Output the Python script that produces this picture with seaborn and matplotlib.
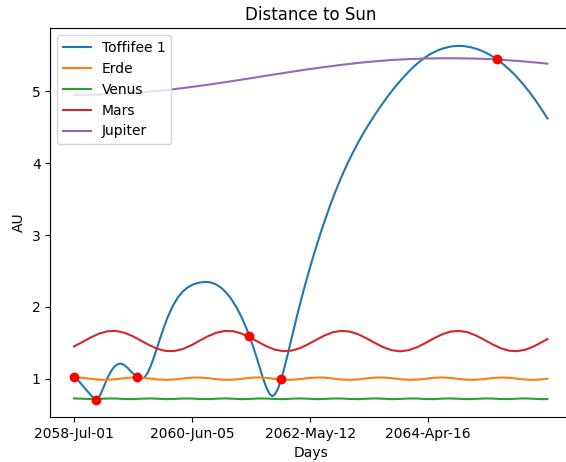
import matplotlib
matplotlib.use("Agg")
import matplotlib.pyplot as plt
import seaborn as sns

# Days since 2058-Jul-01
planet_days = list(range(0, 2801, 50)) + [2830]
jupiter_days = list(range(0, 2801, 100)) + [2830]

erde_au = [1.017, 1.012, 0.998, 0.986, 0.984, 0.993, 1.006, 1.016, 1.014, 1.003,
           0.989, 0.983, 0.989, 1.002, 1.014, 1.016, 1.007, 0.993, 0.984, 0.986,
           0.998, 1.011, 1.017, 1.011, 0.997, 0.986, 0.984, 0.994, 1.008, 1.016,
           1.014, 1.001, 0.988, 0.983, 0.990, 1.004, 1.015, 1.016, 1.006, 0.992,
           0.984, 0.987, 0.999, 1.012, 1.017, 1.010, 0.996, 0.985, 0.985, 0.995,
           1.009, 1.016, 1.013, 1.000, 0.987, 0.983, 0.991, 0.999]

venus_au = [0.725, 0.721, 0.715, 0.718, 0.724, 0.724, 0.717, 0.715, 0.721, 0.725,
            0.721, 0.715, 0.718, 0.724, 0.724, 0.717, 0.715, 0.721, 0.725, 0.721,
            0.715, 0.718, 0.724, 0.724, 0.717, 0.715, 0.721, 0.725, 0.721, 0.715,
            0.718, 0.724, 0.724, 0.717, 0.715, 0.721, 0.725, 0.721, 0.715, 0.718,
            0.724, 0.724, 0.717, 0.715, 0.722, 0.725, 0.720, 0.715, 0.719, 0.724,
            0.724, 0.716, 0.716, 0.722, 0.725, 0.720, 0.715, 0.716]

mars_au = [1.449, 1.510, 1.574, 1.628, 1.660, 1.665, 1.640, 1.592, 1.529, 1.466,
           1.415, 1.385, 1.385, 1.413, 1.464, 1.527, 1.590, 1.639, 1.664, 1.661,
           1.630, 1.576, 1.513, 1.451, 1.404, 1.383, 1.390, 1.424, 1.480, 1.544,
           1.604, 1.648, 1.666, 1.655, 1.617, 1.560, 1.496, 1.437, 1.396, 1.381,
           1.396, 1.437, 1.496, 1.560, 1.617, 1.655, 1.666, 1.648, 1.604, 1.544,
           1.480, 1.424, 1.390, 1.383, 1.404, 1.451, 1.513, 1.551]

jupiter_au = [4.950, 4.951, 4.957, 4.969, 4.985, 5.006, 5.031, 5.060, 5.092, 5.126,
              5.162, 5.199, 5.236, 5.272, 5.307, 5.339, 5.369, 5.396, 5.418, 5.436,
              5.449, 5.457, 5.460, 5.460, 5.456, 5.447, 5.432, 5.414, 5.393, 5.385]

toffifee_days = [0, 20, 40, 60, 80, 100, 115, 130, 145, 160,
                 180, 200, 220, 240, 260, 280, 300, 320, 340, 360,
                 375, 390, 405, 420, 440, 460, 480, 500, 520, 540,
                 560, 590, 620, 650, 680, 710, 740, 770, 790, 820,
                 850, 880, 910, 940, 970, 1000, 1030, 1060, 1090, 1110,
                 1130, 1150, 1170, 1185, 1200, 1220, 1240, 1260, 1280, 1300,
                 1320, 1340, 1360, 1380, 1400, 1430, 1460, 1490, 1530, 1560,
                 1600, 1640, 1670, 1700, 1735, 1770, 1800, 1830, 1870, 1900,
                 1930, 1970, 2000, 2030, 2070, 2100, 2130, 2170, 2200, 2240,
                 2270, 2300, 2330, 2370, 2410, 2450, 2490, 2526, 2560, 2600,
                 2640, 2680, 2720, 2760, 2800, 2830]
toffifee_au = [1.030, 0.985, 0.935, 0.880, 0.825, 0.770, 0.735, 0.710, 0.730, 0.790,
               0.900, 1.010, 1.100, 1.165, 1.200, 1.210, 1.190, 1.150, 1.100, 1.055,
               1.030, 1.012, 1.003, 1.015, 1.080, 1.185, 1.315, 1.455, 1.597, 1.733,
               1.857, 2.012, 2.128, 2.213, 2.272, 2.310, 2.333, 2.344, 2.347, 2.338,
               2.311, 2.265, 2.197, 2.109, 1.998, 1.863, 1.704, 1.519, 1.308, 1.155,
               1.005, 0.875, 0.783, 0.757, 0.778, 0.864, 1.002, 1.174, 1.363, 1.558,
               1.751, 1.940, 2.120, 2.293, 2.461, 2.700, 2.926, 3.140, 3.405, 3.590,
               3.816, 4.020, 4.161, 4.294, 4.438, 4.571, 4.679, 4.782, 4.913, 5.005,
               5.091, 5.198, 5.272, 5.341, 5.422, 5.474, 5.519, 5.566, 5.593, 5.618,
               5.629, 5.633, 5.630, 5.615, 5.589, 5.552, 5.503, 5.449, 5.390, 5.309,
               5.217, 5.113, 4.998, 4.871, 4.733, 4.622]

# Flyby markers
flyby_days = [0, 130, 375, 1045, 1240, 2526]
flyby_au = [1.03, 0.71, 1.03, 1.60, 1.00, 5.445]

tick_days = [0, 705, 1411, 2116]
tick_labels = ["2058-Jul-01", "2060-Jun-05", "2062-May-12", "2064-Apr-16"]

fig, ax = plt.subplots(figsize=(5.66, 4.62), dpi=100)
fig.subplots_adjust(left=0.089, right=1.009, top=0.939, bottom=0.097)

sns.lineplot(x=toffifee_days, y=toffifee_au, ax=ax, color="C0", label="Toffifee 1")
sns.lineplot(x=planet_days, y=erde_au, ax=ax, color="C1", label="Erde")
sns.lineplot(x=planet_days, y=venus_au, ax=ax, color="C2", label="Venus")
sns.lineplot(x=planet_days, y=mars_au, ax=ax, color="C3", label="Mars")
sns.lineplot(x=jupiter_days, y=jupiter_au, ax=ax, color="C4", label="Jupiter")
sns.scatterplot(x=flyby_days, y=flyby_au, ax=ax, color="red", s=50,
                linewidth=0, zorder=3)

ax.set_xticks(tick_days)
ax.set_xticklabels(tick_labels)
ax.set_xlabel("Days")
ax.set_ylabel("AU")
ax.set_title("Distance to Sun")
ax.legend(loc="upper left")

fig.savefig("out.png", dpi=100)
